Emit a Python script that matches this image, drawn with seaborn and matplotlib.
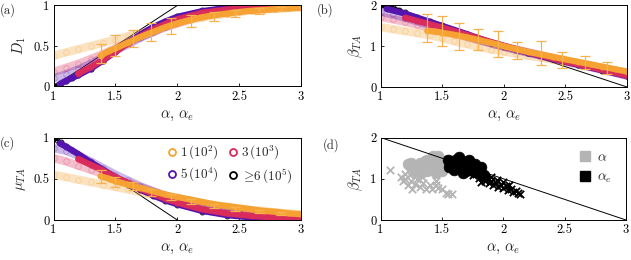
import numpy as np
import pandas as pd
import matplotlib
matplotlib.use("Agg")
import matplotlib.pyplot as plt
import seaborn as sns
from matplotlib.lines import Line2D

# ---------------- data ----------------
levels = ["1", "3", "5", "6"]
level_labels = [r"$1\,(10^2)$", r"$3\,(10^3)$", r"$5\,(10^4)$", r"$\geq\!6\,(10^5)$"]
level_colors = ["#F5A233", "#D92B5C", "#5514AE", "#000000"]

# x grid of faded (alpha) curves
xa = [1.0, 1.1, 1.2, 1.3, 1.4, 1.5, 1.6, 1.7, 1.8, 1.9, 2.0,
      2.1, 2.2, 2.3, 2.4, 2.5, 2.6, 2.7, 2.8, 2.9, 3.0]
# x grids of saturated (alpha_e) curves
xe1 = [1.38, 1.45, 1.5, 1.6, 1.7, 1.8, 1.9, 2.0, 2.1, 2.2, 2.3, 2.4, 2.5, 2.6, 2.7, 2.8, 2.9, 3.0]
xe3 = [1.2, 1.3, 1.4, 1.5, 1.6, 1.7, 1.8, 1.9, 2.0, 2.2, 2.4, 2.6, 2.8, 3.0]
xe5 = [1.05, 1.1, 1.2, 1.3, 1.4, 1.5, 1.6, 1.7, 1.8, 1.9, 2.0, 2.2, 2.4, 2.6, 2.8, 3.0]
xe6 = [1.0, 1.03, 1.06, 1.1, 1.15, 1.2, 1.3, 1.4, 1.5, 1.6, 1.7, 1.8, 1.9, 2.0, 2.2, 2.4, 2.6, 2.8, 3.0]

# panel (a): D1
a_light1 = [0.38, 0.42, 0.46, 0.50, 0.54, 0.58, 0.62, 0.66, 0.70, 0.74, 0.78, 0.82, 0.85, 0.88, 0.90, 0.92, 0.94, 0.95, 0.96, 0.97, 0.98]
a_light3 = [0.18, 0.23, 0.28, 0.34, 0.40, 0.47, 0.54, 0.61, 0.67, 0.73, 0.78, 0.83, 0.87, 0.90, 0.92, 0.94, 0.95, 0.96, 0.97, 0.98, 0.99]
a_light5 = [0.10, 0.15, 0.21, 0.28, 0.36, 0.44, 0.52, 0.60, 0.67, 0.74, 0.80, 0.85, 0.89, 0.92, 0.94, 0.96, 0.97, 0.98, 0.99, 0.99, 1.00]
a_e1 = [0.38, 0.44, 0.47, 0.54, 0.61, 0.67, 0.73, 0.78, 0.82, 0.855, 0.88, 0.90, 0.92, 0.935, 0.945, 0.955, 0.965, 0.97]
a_e3 = [0.16, 0.24, 0.33, 0.43, 0.53, 0.62, 0.70, 0.77, 0.83, 0.91, 0.95, 0.97, 0.985, 0.99]
a_e5 = [0.03, 0.07, 0.14, 0.22, 0.32, 0.43, 0.54, 0.64, 0.73, 0.80, 0.86, 0.93, 0.97, 0.985, 0.995, 1.0]
a_e6 = [0.0, 0.02, 0.04, 0.07, 0.10, 0.14, 0.22, 0.32, 0.43, 0.54, 0.65, 0.74, 0.81, 0.87, 0.94, 0.97, 0.985, 0.995, 1.0]

# panel (b): beta_TA
b_light1 = [1.47, 1.42, 1.37, 1.32, 1.27, 1.20, 1.12, 1.05, 0.98, 0.92, 0.87, 0.82, 0.77, 0.72, 0.67, 0.62, 0.56, 0.50, 0.45, 0.40, 0.35]
b_light3 = [1.72, 1.66, 1.60, 1.53, 1.46, 1.39, 1.31, 1.23, 1.15, 1.07, 0.99, 0.92, 0.85, 0.78, 0.71, 0.64, 0.57, 0.50, 0.43, 0.36, 0.28]
b_light5 = [1.85, 1.78, 1.70, 1.61, 1.52, 1.43, 1.34, 1.25, 1.16, 1.07, 0.99, 0.91, 0.84, 0.77, 0.70, 0.63, 0.56, 0.49, 0.42, 0.35, 0.28]
b_e1 = [1.38, 1.36, 1.33, 1.28, 1.22, 1.15, 1.08, 1.00, 0.93, 0.86, 0.80, 0.74, 0.68, 0.62, 0.56, 0.50, 0.44, 0.38]
b_e3 = [1.70, 1.62, 1.54, 1.46, 1.37, 1.28, 1.19, 1.10, 1.01, 0.85, 0.70, 0.56, 0.42, 0.28]
b_e5 = [1.92, 1.88, 1.80, 1.70, 1.60, 1.50, 1.40, 1.30, 1.19, 1.09, 1.00, 0.84, 0.69, 0.55, 0.41, 0.27]
b_e6 = [2.0, 2.0, 1.98, 1.96, 1.90, 1.84, 1.73, 1.62, 1.51, 1.40, 1.30, 1.19, 1.09, 1.00, 0.83, 0.68, 0.53, 0.40, 0.28]

# panel (c): mu_TA
c_light1 = [0.55, 0.52, 0.49, 0.46, 0.43, 0.40, 0.37, 0.34, 0.31, 0.28, 0.25, 0.22, 0.20, 0.18, 0.16, 0.14, 0.12, 0.11, 0.09, 0.08, 0.07]
c_light3 = [0.75, 0.71, 0.66, 0.61, 0.56, 0.50, 0.45, 0.40, 0.35, 0.30, 0.25, 0.21, 0.18, 0.15, 0.12, 0.10, 0.08, 0.06, 0.05, 0.04, 0.03]
c_light5 = [0.87, 0.84, 0.78, 0.71, 0.63, 0.55, 0.48, 0.41, 0.35, 0.29, 0.24, 0.20, 0.16, 0.13, 0.10, 0.08, 0.06, 0.05, 0.04, 0.03, 0.02]
c_e1 = [0.53, 0.50, 0.47, 0.43, 0.39, 0.35, 0.31, 0.28, 0.25, 0.22, 0.19, 0.17, 0.15, 0.13, 0.11, 0.10, 0.08, 0.07]
c_e3 = [0.74, 0.67, 0.60, 0.52, 0.45, 0.38, 0.32, 0.26, 0.21, 0.13, 0.08, 0.05, 0.03, 0.02]
c_e5 = [0.93, 0.89, 0.80, 0.70, 0.61, 0.52, 0.44, 0.37, 0.30, 0.24, 0.19, 0.11, 0.06, 0.03, 0.02, 0.01]
c_e6 = [1.0, 0.97, 0.94, 0.90, 0.85, 0.80, 0.70, 0.60, 0.51, 0.43, 0.36, 0.29, 0.23, 0.18, 0.10, 0.05, 0.02, 0.01, 0.0]

# error bars of level 1 (alpha_e)
err_x = [1.38, 1.5, 1.64, 1.79, 1.95, 2.11, 2.3, 2.47, 2.66, 2.84]
a_err_lo = [0.29, 0.38, 0.49, 0.56, 0.65, 0.73, 0.81, 0.86, 0.90, 0.93]
a_err_hi = [0.53, 0.63, 0.70, 0.78, 0.84, 0.88, 0.92, 0.94, 0.965, 0.98]
b_err_lo = [1.10, 1.01, 0.92, 0.92, 0.73, 0.69, 0.55, 0.47, 0.43, 0.33]
b_err_hi = [1.80, 1.74, 1.57, 1.42, 1.37, 1.10, 1.13, 0.86, 0.77, 0.61]
c_err_lo = [0.45, 0.40, 0.36, 0.29, 0.24, 0.19, 0.15, 0.11, 0.08, 0.06]
c_err_hi = [0.61, 0.52, 0.46, 0.37, 0.32, 0.26, 0.20, 0.16, 0.12, 0.10]

# theory lines
th_a_x, th_a_y = [1.0, 2.0], [0.0, 1.0]
th_b_x, th_b_y = [1.0, 3.0], [2.0, 0.0]
th_c_x, th_c_y = [1.0, 2.0], [1.0, 0.0]

# panel (d): scatter
d_grey_o_x = [1.22, 1.25, 1.28, 1.30, 1.32, 1.35, 1.36, 1.38, 1.40, 1.42, 1.43, 1.45, 1.46, 1.48, 1.50, 1.50, 1.52, 1.54, 1.55, 1.38, 1.33, 1.28, 1.45, 1.58, 1.25, 1.40, 1.47, 1.35]
d_grey_o_y = [1.35, 1.38, 1.32, 1.25, 1.38, 1.30, 1.42, 1.20, 1.35, 1.48, 1.55, 1.40, 1.28, 1.50, 1.35, 1.20, 1.42, 1.30, 1.45, 1.45, 1.15, 1.20, 1.15, 1.38, 1.28, 1.25, 1.55, 1.22]
d_grey_x_x = [1.08, 1.17, 1.18, 1.20, 1.22, 1.25, 1.26, 1.28, 1.30, 1.32, 1.35, 1.37, 1.40, 1.42, 1.45, 1.47, 1.50, 1.53, 1.55, 1.58, 1.24, 1.34, 1.45, 1.20, 1.29]
d_grey_x_y = [1.22, 1.05, 0.95, 1.00, 0.85, 0.95, 0.75, 0.88, 1.00, 0.80, 0.90, 0.75, 0.85, 0.75, 0.95, 0.78, 0.75, 0.65, 0.63, 0.62, 1.10, 1.05, 0.85, 1.12, 1.08]
d_blk_o_x = [1.55, 1.57, 1.58, 1.60, 1.62, 1.63, 1.65, 1.66, 1.68, 1.70, 1.70, 1.72, 1.74, 1.75, 1.77, 1.78, 1.80, 1.82, 1.84, 1.60, 1.67, 1.56, 1.64]
d_blk_o_y = [1.45, 1.35, 1.42, 1.30, 1.48, 1.38, 1.25, 1.42, 1.32, 1.20, 1.40, 1.45, 1.30, 1.18, 1.35, 1.25, 1.15, 1.28, 1.10, 1.22, 1.15, 1.28, 1.52]
d_blk_x_x = [1.72, 1.75, 1.78, 1.80, 1.83, 1.85, 1.87, 1.88, 1.90, 1.92, 1.94, 1.96, 1.98, 2.00, 2.02, 2.04, 2.06, 2.08, 2.10, 2.12, 2.14, 1.90, 1.95, 2.00, 2.05, 1.82]
d_blk_x_y = [1.15, 1.08, 1.12, 1.02, 1.05, 0.95, 1.00, 0.90, 0.95, 0.85, 0.90, 0.80, 0.85, 0.78, 0.82, 0.72, 0.75, 0.68, 0.70, 0.65, 0.62, 1.05, 0.98, 0.92, 0.85, 0.92]
d_legend = [r"$\alpha$", r"$\alpha_e$"]
d_colors = ["#B4B4B4", "#000000"]

x_ticks = [1, 1.5, 2, 2.5, 3]
x_tick_labels = ["1", "1.5", "2", "2.5", "3"]

# ---------------- style ----------------
sns.set_theme(style="ticks")
plt.rcParams.update({
    "font.family": ["cmr10", "DejaVu Serif"],
    "mathtext.fontset": "cm",
    "axes.formatter.use_mathtext": True,
    "font.size": 9,
    "axes.linewidth": 0.7,
    "xtick.direction": "in",
    "ytick.direction": "in",
    "xtick.major.size": 2.5,
    "ytick.major.size": 2.5,
    "xtick.major.width": 0.6,
    "ytick.major.width": 0.6,
    "xtick.labelsize": 9,
    "ytick.labelsize": 9,
    "axes.labelsize": 10.5,
})

fig = plt.figure(figsize=(6.31, 2.60), dpi=100)
W, H = 631, 260
def add_ax(x0, y0, x1, y1):
    return fig.add_axes([x0 / W, 1 - y1 / H, (x1 - x0) / W, (y1 - y0) / H])

ax_a = add_ax(53.5, 5.5, 301, 86.5)
ax_b = add_ax(380.5, 5.5, 627, 87)
ax_c = add_ax(53.5, 137.5, 301, 220)
ax_d = add_ax(380.5, 137.5, 626, 220)

xe = [xe1, xe3, xe5, xe6]

def draw_panel(ax, lights, sats, lo, hi, th_x, th_y):
    # theory line underneath the data
    sns.lineplot(x=th_x, y=th_y, ax=ax, color="black", lw=0.7, zorder=1)
    # faded curves (alpha)
    for yl, col in zip(lights, level_colors[:3]):
        df = pd.DataFrame({"x": xa, "y": yl})
        sns.lineplot(data=df, x="x", y="y", ax=ax, color=col, alpha=0.3,
                     lw=6, marker="o", markersize=4, mfc="none", mec=col,
                     mew=0.6, solid_capstyle="round", legend=False, zorder=2)
    # saturated curves (alpha_e): black, purple, crimson, orange on top
    for idx in [3, 2, 1, 0]:
        df = pd.DataFrame({"x": xe[idx], "y": sats[idx]})
        col = level_colors[idx]
        lw = 2.0 if idx == 3 else 4.5
        sns.lineplot(data=df, x="x", y="y", ax=ax, color=col, lw=lw,
                     marker="o", markersize=3.5, mfc="none", mec=col, mew=0.7,
                     solid_capstyle="round", legend=False, zorder=3)
    lo = np.array(lo); hi = np.array(hi)
    mid = (lo + hi) / 2
    ax.errorbar(err_x, mid, yerr=[mid - lo, hi - mid], fmt="none",
                ecolor="#F6B24E", elinewidth=0.9, capsize=3.5, capthick=0.9,
                zorder=5)

draw_panel(ax_a, [a_light1, a_light3, a_light5], [a_e1, a_e3, a_e5, a_e6],
           a_err_lo, a_err_hi, th_a_x, th_a_y)
draw_panel(ax_b, [b_light1, b_light3, b_light5], [b_e1, b_e3, b_e5, b_e6],
           b_err_lo, b_err_hi, th_b_x, th_b_y)
draw_panel(ax_c, [c_light1, c_light3, c_light5], [c_e1, c_e3, c_e5, c_e6],
           c_err_lo, c_err_hi, th_c_x, th_c_y)

# panel (d)
sns.lineplot(x=th_b_x, y=th_b_y, ax=ax_d, color="black", lw=0.7)
sns.scatterplot(x=d_grey_x_x, y=d_grey_x_y, ax=ax_d, marker="x", color=d_colors[0],
                s=28, linewidth=1.3)
sns.scatterplot(x=d_grey_o_x, y=d_grey_o_y, ax=ax_d, marker="o", color=d_colors[0],
                s=60, edgecolor=d_colors[0], linewidth=0.5)
sns.scatterplot(x=d_blk_x_x, y=d_blk_x_y, ax=ax_d, marker="x", color=d_colors[1],
                s=28, linewidth=1.3)
sns.scatterplot(x=d_blk_o_x, y=d_blk_o_y, ax=ax_d, marker="o", color=d_colors[1],
                s=60, edgecolor=d_colors[1], linewidth=0.5)

# axes formatting
for ax, ylim, yt, ytl, ylab in [
        (ax_a, (0, 1), [0, 0.5, 1], ["0", "0.5", "1"], r"$D_1$"),
        (ax_b, (0, 2), [0, 1, 2], ["0", "1", "2"], r"$\beta_{TA}$"),
        (ax_c, (0, 1), [0, 0.5, 1], ["0", "0.5", "1"], r"$\mu_{TA}$"),
        (ax_d, (0, 2), [0, 1, 2], ["0", "1", "2"], r"$\beta_{TA}$")]:
    ax.set_xlim(1, 3)
    ax.set_ylim(*ylim)
    ax.set_xticks(x_ticks, labels=x_tick_labels)
    ax.set_yticks(yt, labels=ytl)
    ax.set_xlabel(r"$\alpha,\,\alpha_e$", labelpad=4)
    ax.set_ylabel(ylab, labelpad=4)
    ax.tick_params(pad=3, colors="black")
    for s in ax.spines.values():
        s.set_visible(True)
        s.set_color("black")
        s.set_zorder(10)

# legend (c)
handles = [Line2D([], [], ls="none", marker="o", mfc="none", mec=c, mew=1.3,
                  markersize=5) for c in level_colors]
order = [0, 2, 1, 3]
ax_c.legend([handles[i] for i in order], [level_labels[i] for i in order],
            ncol=2, loc="upper right", bbox_to_anchor=(1.0, 1.02), frameon=False,
            handletextpad=0.1, columnspacing=0.6, handlelength=1.0,
            labelspacing=0.3, fontsize=9.5, borderaxespad=0.2)

# legend (d)
dh = [Line2D([], [], ls="none", marker="s", color=c, markersize=7) for c in d_colors]
ax_d.legend(dh, d_legend, loc="upper right", frameon=False, handletextpad=0.4,
            handlelength=1.0, fontsize=10, borderaxespad=0.6, labelspacing=0.5)

# panel labels
for lab, (px, py) in zip(["(a)", "(b)", "(c)", "(d)"],
                         [(0, 10), (317, 10), (0, 143), (323, 145)]):
    fig.text(px / W, 1 - py / H, lab, fontsize=9, va="center", ha="left")

fig.savefig("out.png", dpi=100)
